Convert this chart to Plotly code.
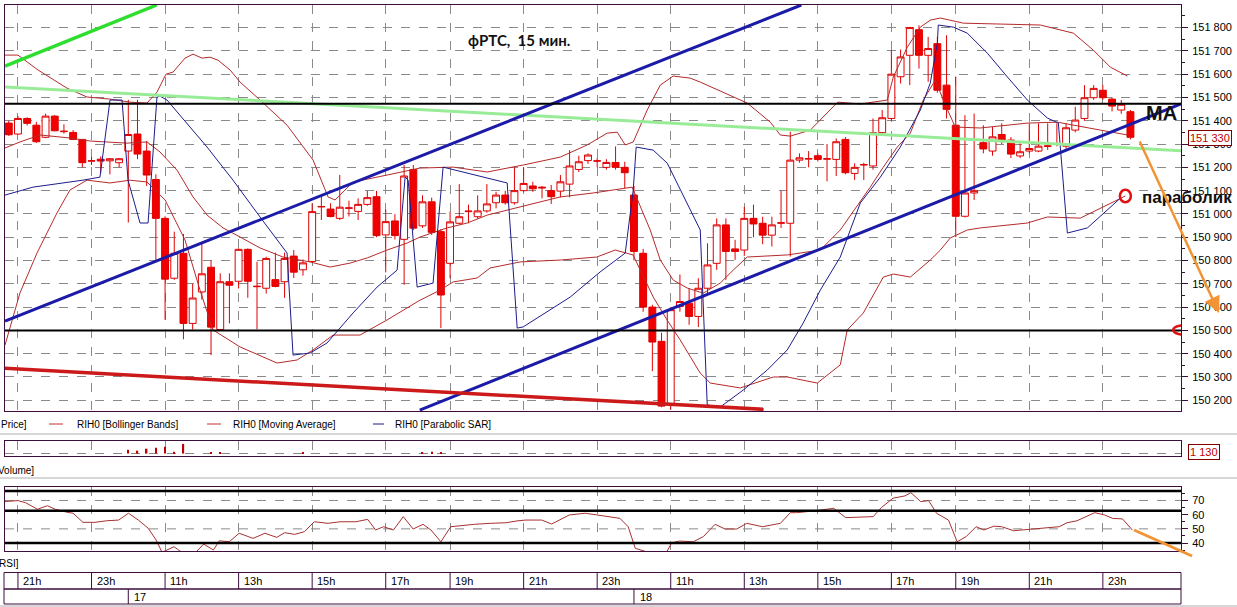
import plotly.graph_objects as go

W, H = 1237, 607

def px(x):
    return x / W

def py(y):
    return 1 - y / H

# ---------------- data ----------------
bar_index = list(range(-1, 122))
opens = [151390, 151343, 151410, 151381, 151329, 151420, 151353, 151350, 151320, 151227, 151235, 151228, 151220,
         151270, 151343, 151270, 151148, 150981, 150724, 150831, 150530, 150665, 150771, 150504, 150709, 150711,
         150848, 150690, 150681, 150718, 150709, 150819, 150760, 150796, 151030, 151021, 150981, 151024, 151011,
         151041, 151074, 150910, 150970, 150891, 151191, 150949, 151052, 150924, 150788, 150960, 151010, 150988,
         151013, 151048, 151081, 151048, 151100, 151120, 151115, 151100, 151098, 151128, 151191, 151229, 151228,
         151200, 151221, 151200, 151081, 150831, 150600, 150453, 150181, 150603, 150617, 150560, 150681, 150788,
         150953, 150850, 150845, 150981, 150960, 150909, 150960, 150960, 151231, 151235, 151250, 151235, 151234,
         151320, 151174, 151210, 151206, 151349, 151410, 151589, 151681, 151791, 151681, 151731, 151553, 151381,
         150990, 151090, 151306, 151270, 151341, 151317, 151249, 151270, 151270, 151290, 151300, 151291, 151360,
         151410, 151499, 151531, 151493, 151446, 151439]
highs = [151400, 151420, 151415, 151395, 151430, 151425, 151385, 151360, 151320, 151245, 151247, 151240, 151240,
         151490, 151490, 151313, 151170, 150990, 150924, 150914, 150700, 150880, 150800, 150745, 150745, 150852,
         150852, 150795, 150816, 150834, 150834, 150845, 150805, 151046, 151081, 151046, 151167, 151057, 151067,
         151099, 151099, 151019, 150999, 151210, 151210, 151080, 151070, 150935, 151010, 151128, 151040, 151080,
         151128, 151095, 151100, 151200, 151200, 151138, 151120, 151124, 151167, 151274, 151250, 151260, 151240,
         151235, 151290, 151224, 151120, 150850, 150610, 150490, 150600, 150740, 150681, 150724, 150874, 150981,
         150981, 150889, 151031, 151040, 150988, 150988, 151100, 151353, 151260, 151270, 151260, 151300, 151324,
         151330, 151217, 151220, 151410, 151446, 151703, 151706, 151803, 151810, 151760, 151760, 151767, 151590,
         151424, 151431, 151381, 151374, 151389, 151330, 151303, 151389, 151389, 151389, 151389, 151390, 151460,
         151553, 151553, 151553, 151500, 151489, 151446]
lows = [151335, 151340, 151380, 151305, 151325, 151355, 151345, 151318, 151200, 151210, 151175, 151170, 151200,
        150963, 151235, 151120, 150803, 150546, 150717, 150462, 150504, 150632, 150394, 150500, 150530, 150680,
        150640, 150505, 150658, 150685, 150640, 150725, 150735, 150790, 150974, 150985, 150974, 150989, 150974,
        151035, 150900, 150749, 150890, 150696, 150930, 150940, 150910, 150510, 150724, 150955, 150960, 150980,
        151005, 151024, 151040, 151040, 151095, 151095, 151067, 151043, 151071, 151071, 151180, 151215, 151200,
        151190, 151190, 151110, 150800, 150580, 150325, 150170, 150160, 150580, 150524, 150514, 150660, 150760,
        150717, 150803, 150820, 150900, 150870, 150860, 150940, 150817, 151220, 151200, 151225, 151140, 151163,
        151170, 151146, 151146, 151190, 151340, 151400, 151560, 151553, 151624, 151567, 151520, 151410, 150900,
        150985, 151060, 151260, 151250, 151300, 151240, 151240, 151260, 151265, 151275, 151290, 151280, 151350,
        151400, 151490, 151490, 151440, 151430, 151320]
closes = [151340, 151410, 151389, 151310, 151420, 151357, 151355, 151320, 151220, 151228, 151227, 151237, 151237,
          151341, 151257, 151167, 150981, 150720, 150831, 150530, 150639, 150743, 150514, 150709, 150694, 150848,
          150711, 150688, 150809, 150689, 150809, 150750, 150790, 151010, 151032, 150989, 151029, 151026, 151041,
          151070, 150907, 150967, 150907, 151163, 150939, 151052, 150921, 150652, 150966, 150988, 151012, 151013,
          151043, 151081, 151048, 151100, 151131, 151108, 151112, 151074, 151138, 151206, 151224, 151253, 151227,
          151221, 151200, 151177, 150839, 150600, 150450, 150175, 150589, 150624, 150560, 150681, 150781, 150953,
          150839, 150839, 150981, 150957, 150909, 150953, 150962, 151231, 151241, 151238, 151234, 151237, 151310,
          151177, 151200, 151212, 151349, 151413, 151600, 151674, 151800, 151681, 151710, 151531, 151449, 150990,
          151090, 151100, 151279, 151331, 151317, 151257, 151267, 151281, 151291, 151292, 151300, 151370, 151403,
          151499, 151539, 151499, 151463, 151471, 151329]

# Bollinger upper / lower, moving average, parabolic SAR (vertices)
bb_up_x = [-1.41, 0, 2.18, 4.24, 5.33, 7.51, 10.01, 12.19, 14.04, 15.12, 16.1, 16.87, 18.17, 19.04, 20.02, 20.89,
           21.76, 23.07, 24.16, 26.33, 29.27, 32.1, 33.73, 34.49, 36.45, 40.15, 43.74, 47.33, 51.03, 54.95, 58.98,
           61.91, 64.09, 65.18, 66.05, 66.92, 68.44, 69.86, 71.27, 73.12, 74.21, 79.32, 81.83, 82.91, 84.0, 86.18,
           89.16, 91.62, 94.56, 95.21, 96.73, 98.15, 99.23, 100.33, 102.83, 111.2, 114.8, 116.97, 118.82, 120.67]
bb_up_y = [151682, 151682, 151618, 151566, 151540, 151502, 151493, 151480, 151476, 151523, 151600, 151609, 151669,
           151686, 151669, 151673, 151660, 151618, 151566, 151489, 151381, 151231, 151073, 151060, 151137, 151167,
           151197, 151201, 151180, 151210, 151244, 151296, 151347, 151351, 151296, 151309, 151446, 151553, 151592,
           151583, 151566, 151476, 151394, 151339, 151334, 151360, 151480, 151472, 151489, 151588, 151716, 151802,
           151832, 151841, 151819, 151811, 151776, 151703, 151630, 151592]
bb_lo_x = [-1.41, 0.22, 2.07, 4.24, 5.66, 7.51, 10.01, 12.19, 14.04, 16.0, 18.17, 19.8, 21.22, 24.16, 28.18, 30.36,
           32.1, 34.28, 37.21, 40.15, 43.74, 45.92, 47.33, 49.94, 51.36, 54.62, 58.98, 62.95, 64.96, 66.9, 69.1,
           70.6, 72.03, 74.2, 75.3, 78.56, 82.15, 83.67, 86.94, 89.44, 90.2, 91.95, 94.12, 95.21, 97.06, 99.23,
           100.33, 101.41, 103.26, 104.67, 109.79, 111.96, 115.55, 117.73, 120.45]
bb_lo_y = [150437, 150661, 150832, 151004, 151103, 151145, 151133, 151145, 151137, 151060, 150888, 150673, 150502,
           150429, 150360, 150373, 150416, 150480, 150480, 150545, 150630, 150673, 150708, 150725, 150768, 150794,
           150802, 150815, 150845, 150824, 150643, 150545, 150459, 150317, 150274, 150253, 150300, 150300, 150274,
           150352, 150502, 150575, 150729, 150742, 150729, 150802, 150845, 150897, 150931, 150940, 150961, 150987,
           150982, 151025, 151077]
ma_x = [-1.41, 0.22, 2.39, 5.66, 7.83, 10.01, 11.86, 14.04, 15.45, 17.3, 19.04, 20.57, 22.3, 24.16, 26.33, 28.83,
        31.77, 33.95, 36.13, 37.98, 40.15, 42.33, 43.74, 46.68, 48.86, 51.03, 53.21, 55.39, 58.98, 62.57, 64.75,
        66.81, 68.77, 69.86, 71.27, 72.79, 74.53, 76.38, 77.8, 79.32, 83.67, 87.27, 89.44, 92.7, 94.12, 95.64,
        97.06, 98.47, 99.78, 100.87, 101.95, 104.67, 109.79, 113.05, 117.73, 120.67]
ma_y = [151283, 151309, 151339, 151326, 151313, 151309, 151304, 151309, 151266, 151188, 151073, 150995, 150940,
        150901, 150854, 150815, 150794, 150772, 150789, 150811, 150845, 150875, 150901, 150940, 150961, 150995,
        151017, 151038, 151073, 151090, 151103, 151115, 150931, 150802, 150716, 150682, 150660, 150703, 150759,
        150815, 150824, 150845, 150931, 151115, 151201, 151287, 151347, 151489, 151575, 151467, 151373, 151369,
        151390, 151394, 151360, 151339]
sar_x = [-1.41, 1.63, 7.07, 8.92, 10.01, 11.32, 11.97, 13.28, 14.15, 15.12, 15.45, 16.21, 20.57, 23.39, 26.33,
         29.27, 29.92, 31.77, 33.62, 36.45, 39.06, 41.24, 42.11, 42.44, 43.42, 45.15, 46.24, 53.21, 54.3, 54.95,
         60.06, 63.32, 66.05, 66.92, 67.24, 69.09, 70.62, 74.21, 74.97, 76.38, 78.89, 81.5, 83.67, 85.41, 87.27,
         89.44, 91.62, 93.8, 95.97, 98.15, 99.23, 100.0, 100.1, 101.74, 103.26, 105.44, 107.62, 109.79, 111.96,
         113.16, 114.14, 116.32, 119.91]
sar_y = [151081, 151115, 151145, 151158, 151489, 151489, 151145, 150961, 150961, 151502, 151506, 151489, 151287,
         151145, 150987, 150832, 150394, 150403, 150446, 150575, 150686, 150759, 151158, 151145, 150686, 150703,
         151201, 151133, 150510, 150515, 150643, 150751, 150832, 151103, 151287, 151274, 151218, 150931, 150180,
         150171, 150244, 150330, 150416, 150532, 150673, 150815, 151047, 151158, 151287, 151446, 151562, 151733,
         151811, 151802, 151776, 151690, 151588, 151489, 151412, 151390, 150918, 150940, 151068]

# hand-drawn lines on the chart (index, price end points)
green_x, green_y = [-1.41, 15.1], [151635, 151897]
lightgreen_x, lightgreen_y = [-1.41, 126.5], [151545, 151271]
blue_up_x, blue_up_y = [-1.41, 85.2], [150540, 151897]
blue_lo_x, blue_lo_y = [43.7, 126.5], [150158, 151472]
red_lo_x, red_lo_y = [-1.41, 81.1], [150337, 150161]
black_levels = [151473, 150500]

# volume
vol_x = [12, 13, 14, 15, 16, 17, 18, 21, 22, 31, 44, 45, 46]
vol_y = [400, 300, 500, 600, 700, 200, 1000, 100, 100, 100, 150, 200, 150]

# RSI
rsi_x = [-1.52, 0, 0.84, 2.12, 3.2, 4.06, 5.35, 6, 7.07, 8.37, 9.65, 10.95, 12.02, 13.09, 14.17, 15.03, 15.67,
         16.97, 17.82, 19.34, 20.2, 21.26, 21.9, 22.98, 24.06, 25.57, 26.86, 28.15, 29.01, 30.09, 31.15, 32.23,
         33.73, 35.04, 36.75, 38.04, 38.9, 39.76, 40.84, 41.91, 42.98, 44.06, 44.92, 46, 47.07, 48.57, 49.65,
         51.37, 53.09, 54.39, 55.24, 56.96, 58.04, 59.98, 61.7, 62.98, 65.48, 66.37, 67.14, 68.8, 70.5, 71.1,
         71.96, 73.46, 74.54, 75.83, 76.9, 78.19, 79.27, 80.99, 82.93, 84, 84.66, 86.58, 88.73, 90.02, 91.74,
         93.02, 93.9, 95.18, 96.47, 97.12, 98.19, 99.05, 99.91, 101.21, 102.15, 103.13, 104.21, 105.07, 106.15,
         107, 108.3, 110.24, 111.96, 113.24, 114.1, 115.18, 117.12, 118.19, 119.05, 120.13, 121.21]
rsi_y = [69.2, 69.9, 68.4, 63.8, 66.3, 63.8, 61.7, 61.0, 54.6, 54.6, 55.7, 56.2, 61.0, 56.2, 50.4, 42.1, 33.5,
         37.4, 33.5, 33.5, 39.3, 35.1, 41.6, 40.9, 46.9, 43.3, 46.9, 44.0, 47.3, 46.1, 48.0, 55.0, 53.9, 55.0, 55.0,
         56.7, 49.2, 51.5, 49.2, 58.6, 49.9, 53.2, 49.2, 40.9, 51.5, 52.7, 53.2, 53.9, 54.3, 55.7, 56.2, 56.2, 53.4,
         59.8, 61.0, 59.8, 57.4, 51.5, 36.3, 33.0, 33.0, 40.2, 41.4, 40.9, 44.5, 53.2, 49.9, 49.9, 53.9, 51.5,
         53.9, 61.4, 61.4, 62.6, 64.5, 57.9, 58.6, 58.6, 64.9, 71.6, 73.2, 75.5, 69.2, 69.9, 61.0, 56.2, 40.9,
         44.5, 51.5, 49.2, 51.9, 51.5, 48.7, 49.9, 50.8, 51.5, 54.3, 55.7, 61.4, 59.8, 57.4, 57.0, 49.2]
rsi_levels = [76.7, 62.8, 40]
rsi_grid = [50, 70]

# axes text
tick_idx = [0, 8, 16, 24, 32, 40, 47, 55, 63, 71, 79, 87, 95, 102, 110, 118]
tick_text = ["21h", "23h", "11h", "13h", "15h", "17h", "19h", "21h", "23h", "11h", "13h", "15h", "17h", "19h",
             "21h", "23h"]
day_idx = [12, 67]
day_text = ["17", "18"]
price_ticks = list(range(150200, 151900, 100))
price_text = [f"{v // 1000} {v % 1000:03d}" for v in price_ticks]
rsi_ticks = [40, 50, 60, 70]
last_price = 151330
last_volume = 1130
mark_circle = (120.45, 151077)
mark_ellipse = (126.8, 150502)

# ---------------- figure ----------------
BORDER = "#3d0d3d"
GRID = "#8a8a8a"
FONT = "Liberation Sans"
XR = [-1.41, 126.5]
xdom = [px(5), px(1181)]

fig = go.Figure()

fig.add_trace(go.Candlestick(
    x=bar_index, open=opens, high=highs, low=lows, close=closes,
    increasing=dict(line=dict(color="#e00000", width=1), fillcolor="#ffffff"),
    decreasing=dict(line=dict(color="#e00000", width=1), fillcolor="#f00000"),
    whiskerwidth=0, showlegend=False, hoverinfo="skip", xaxis="x", yaxis="y"))

thin_red = "#b52a2a"
for xs, ys in [(bb_up_x, bb_up_y), (bb_lo_x, bb_lo_y), (ma_x, ma_y)]:
    fig.add_trace(go.Scatter(x=xs, y=ys, mode="lines", line=dict(color=thin_red, width=1),
                             showlegend=False, hoverinfo="skip", xaxis="x", yaxis="y"))
fig.add_trace(go.Scatter(x=sar_x, y=sar_y, mode="lines", line=dict(color="#1c1c8c", width=1),
                         showlegend=False, hoverinfo="skip", xaxis="x", yaxis="y"))

for xs, ys, col, w in [(lightgreen_x, lightgreen_y, "#98ec98", 3), (green_x, green_y, "#2ede2e", 3.5),
                       (blue_up_x, blue_up_y, "#1b1ba8", 3), (blue_lo_x, blue_lo_y, "#1b1ba8", 3),
                       (red_lo_x, red_lo_y, "#cc1a1a", 3.5)]:
    fig.add_trace(go.Scatter(x=xs, y=ys, mode="lines", line=dict(color=col, width=w),
                             showlegend=False, hoverinfo="skip", xaxis="x", yaxis="y"))

fig.add_trace(go.Bar(x=vol_x, y=vol_y, width=0.15, marker=dict(color="#c00000", line=dict(width=0)),
                     showlegend=False, hoverinfo="skip", xaxis="x2", yaxis="y2"))

fig.add_trace(go.Scatter(x=rsi_x, y=rsi_y, mode="lines", line=dict(color="#a83030", width=1),
                         showlegend=False, hoverinfo="skip", xaxis="x3", yaxis="y3"))

axis_common = dict(showline=True, mirror=True, linecolor=BORDER, linewidth=1, zeroline=False)
xcommon = dict(domain=xdom, range=XR, tickmode="array", tickvals=tick_idx, showticklabels=False,
               showgrid=True, gridcolor=GRID, griddash="dash", gridwidth=1, ticks="", **axis_common)

fig.update_layout(
    width=W, height=H, margin=dict(l=0, r=0, t=0, b=0), template="none",
    paper_bgcolor="white", plot_bgcolor="white", showlegend=False,
    font=dict(family=FONT, size=11, color="#000000"),
    boxgap=0.25, boxgroupgap=0,
    xaxis=dict(anchor="y", rangeslider=dict(visible=False), **xcommon),
    xaxis2=dict(anchor="y2", matches="x", **xcommon),
    xaxis3=dict(anchor="y3", matches="x", **xcommon),
    yaxis=dict(domain=[py(411), py(5)], range=[150154, 151897], side="right", anchor="x",
               tickmode="array", tickvals=price_ticks, ticktext=price_text,
               ticks="outside", ticklen=6, tickcolor=BORDER, ticklabelstandoff=2,
               minor=dict(dtick=50, tick0=150150, ticks="outside", ticklen=3, tickcolor=BORDER, showgrid=False),
               showgrid=True, gridcolor=GRID, griddash="dash", gridwidth=1,
               tickfont=dict(family=FONT, size=11), **axis_common),
    yaxis2=dict(domain=[py(456), py(441)], range=[-250, 1300], side="right", anchor="x2",
                tickmode="array", tickvals=[0], showticklabels=False, ticks="",
                showgrid=True, gridcolor=GRID, griddash="dash", **axis_common),
    yaxis3=dict(domain=[py(551), py(486.7)], range=[34.4, 79.7], side="right", anchor="x3",
                tickmode="array", tickvals=rsi_ticks, ticks="outside", ticklen=6, tickcolor=BORDER,
                ticklabelstandoff=2,
                minor=dict(dtick=5, tick0=35, ticks="outside", ticklen=3, tickcolor=BORDER, showgrid=False),
                showgrid=False, tickfont=dict(family=FONT, size=11), **axis_common),
)

shapes = []
for lv in black_levels:
    shapes.append(dict(type="line", xref="x domain", x0=0, x1=1, yref="y", y0=lv, y1=lv,
                       line=dict(color="#000000", width=2)))
for lv in rsi_grid:
    shapes.append(dict(type="line", xref="x3 domain", x0=0, x1=1, yref="y3", y0=lv, y1=lv,
                       line=dict(color=GRID, width=1, dash="dash"), layer="below"))
for lv in rsi_levels:
    shapes.append(dict(type="line", xref="x3 domain", x0=0, x1=1, yref="y3", y0=lv, y1=lv,
                       line=dict(color="#000000", width=2.5)))
# time axis boxes
shapes.append(dict(type="rect", xref="paper", yref="paper", x0=px(4), x1=px(1181), y0=py(589), y1=py(572.5),
                   line=dict(color=BORDER, width=1)))
shapes.append(dict(type="rect", xref="paper", yref="paper", x0=px(4), x1=px(1181), y0=py(604), y1=py(589),
                   line=dict(color=BORDER, width=1)))
for t in tick_idx:
    shapes.append(dict(type="line", xref="x", x0=t, x1=t, yref="paper", y0=py(589), y1=py(572.5),
                       line=dict(color=BORDER, width=1)))
for d in day_idx:
    shapes.append(dict(type="line", xref="x", x0=d, x1=d, yref="paper", y0=py(604), y1=py(589),
                       line=dict(color=BORDER, width=1)))
# panel separators
for yy in [434, 478, 606]:
    shapes.append(dict(type="line", xref="paper", yref="paper", x0=0, x1=1, y0=py(yy), y1=py(yy),
                       line=dict(color="#c8c8c8", width=1.5)))
# legend sample dashes
for x0, x1, col in [(49, 63, "#c03030"), (207, 221, "#c03030"), (373, 384, "#1c1c8c")]:
    shapes.append(dict(type="line", xref="paper", yref="paper", x0=px(x0), x1=px(x1), y0=py(424), y1=py(424),
                       line=dict(color=col, width=1)))
# red marks
cx, cy = mark_circle
shapes.append(dict(type="circle", xref="x", yref="y", x0=cx - 0.6, x1=cx + 0.6, y0=cy - 27, y1=cy + 27,
                   line=dict(color="#e01010", width=2.5)))
ex, ey = mark_ellipse
shapes.append(dict(type="circle", xref="x", yref="y", x0=ex - 1.15, x1=ex + 1.15, y0=ey - 20, y1=ey + 20,
                   line=dict(color="#e01010", width=2.5)))
# orange line in RSI panel
shapes.append(dict(type="line", xref="paper", yref="paper", x0=px(1134), y0=py(530), x1=px(1192), y1=py(556),
                   line=dict(color="#f29436", width=3)))

ann = []
small = dict(family=FONT, size=10, color="#000000")
for t, lab in zip(tick_idx, tick_text):
    ann.append(dict(x=t, xref="x", y=py(581), yref="paper", text=lab, showarrow=False, xanchor="left",
                    xshift=3, font=dict(family=FONT, size=11)))
for d, lab in zip(day_idx, day_text):
    ann.append(dict(x=d, xref="x", y=py(596.5), yref="paper", text=lab, showarrow=False, xanchor="left",
                    xshift=4, font=dict(family=FONT, size=11)))
ann += [
    dict(x=px(-1), y=py(424), text="Price]", xanchor="left", font=small),
    dict(x=px(75), y=py(424), text="RIH0 [Bollinger Bands]", xanchor="left", font=small),
    dict(x=px(231), y=py(424), text="RIH0 [Moving Average]", xanchor="left", font=small),
    dict(x=px(393), y=py(424), text="RIH0 [Parabolic SAR]", xanchor="left", font=small),
    dict(x=px(-4), y=py(470), text="Volume]", xanchor="left", font=small),
    dict(x=px(-3), y=py(563), text="RSI]", xanchor="left", font=small),
    dict(x=px(466), y=py(40), text="<b>фРТС,&nbsp; 15 мин.</b>", xanchor="left",
         font=dict(family="Lato", size=15, color="#111111")),
    dict(x=px(1144), y=py(113), text="<b>MA</b>", xanchor="left",
         font=dict(family=FONT, size=20, color="#111111")),
    dict(x=px(1140), y=py(197), text="<b>параболик</b>", xanchor="left",
         font=dict(family=FONT, size=17, color="#111111")),
    dict(x=px(1210), y=py(137.5), text=f"{last_price // 1000} {last_price % 1000:03d}", xanchor="center",
         font=dict(family=FONT, size=11, color="#c00000"), bordercolor="#800000", borderwidth=1,
         bgcolor="white", borderpad=1),
    dict(x=px(1204), y=py(452), text=f"{last_volume // 1000} {last_volume % 1000:03d}", xanchor="center",
         font=dict(family=FONT, size=11, color="#c00000"), bordercolor="#800000", borderwidth=1,
         bgcolor="white", borderpad=1),
]
for a in ann:
    a.setdefault("xref", "paper")
    a.setdefault("yref", "paper")
    a.setdefault("showarrow", False)
    a.setdefault("yanchor", "middle")
ann.append(dict(x=px(1219), y=py(313), ax=-80, ay=-173, axref="pixel", ayref="pixel", xref="paper",
                yref="paper", text="", showarrow=True, arrowhead=2, arrowsize=1.3, arrowwidth=2.5,
                arrowcolor="#f29436"))

fig.update_layout(shapes=shapes, annotations=ann)
fig.write_html("out.html", config={"displayModeBar": False},
               post_script="document.body.style.margin='0';document.body.style.overflow='hidden';")
